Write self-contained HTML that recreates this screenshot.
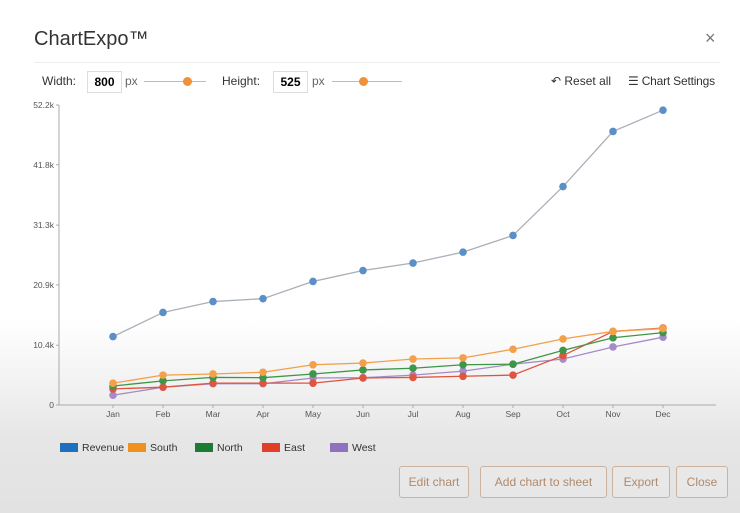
<!DOCTYPE html>
<html><head><meta charset="utf-8"><style>
body{margin:0;width:740px;height:513px;overflow:hidden;font-family:"Liberation Sans",sans-serif;background:linear-gradient(#fff 0,#fff 320px,#e6e6e6 440px,#e2e2e2 513px);position:relative}
.a{position:absolute}
.btn{position:absolute;top:466px;height:30px;border:1px solid #cbb3a0;border-radius:3px;color:#b08a6c;font-size:12px;line-height:30px;text-align:center;background:rgba(255,255,255,.15)}
.inp{position:absolute;top:71px;height:20px;border:1px solid #ddd;background:#fff;font-size:12px;font-weight:bold;line-height:20px;text-align:center}
</style></head><body>
<div class="a" style="left:34px;top:28px;font-size:20px;color:#333">ChartExpo™</div>
<div class="a" style="left:705px;top:28px;font-size:18px;color:#777">×</div>
<div class="a" style="left:34px;top:62px;width:686px;height:1px;background:#eee"></div>
<div class="a" style="left:42px;top:74px;font-size:12px;color:#333">Width:</div>
<div class="inp" style="left:87px;width:33px">800</div>
<div class="a" style="left:125px;top:74px;font-size:12px;color:#666">px</div>
<div class="a" style="left:144px;top:81px;width:62px;height:1px;background:#bbb"></div>
<div class="a" style="left:183px;top:77px;width:9px;height:9px;border-radius:50%;background:#f0903a"></div>
<div class="a" style="left:222px;top:74px;font-size:12px;color:#333">Height:</div>
<div class="inp" style="left:273px;width:33px">525</div>
<div class="a" style="left:312px;top:74px;font-size:12px;color:#666">px</div>
<div class="a" style="left:332px;top:81px;width:70px;height:1px;background:#bbb"></div>
<div class="a" style="left:359px;top:77px;width:9px;height:9px;border-radius:50%;background:#f0903a"></div>
<div class="a" style="left:551px;top:74px;font-size:12px;color:#333">↶ Reset all</div>
<div class="a" style="left:628px;top:74px;font-size:12px;color:#333;letter-spacing:-0.2px">☰ Chart Settings</div>

<svg class="a" style="left:0;top:0" width="740" height="513" id="chart"></svg>

<div class="btn" style="left:399px;width:68px">Edit chart</div>
<div class="btn" style="left:480px;width:125px">Add chart to sheet</div>
<div class="btn" style="left:612px;width:56px">Export</div>
<div class="btn" style="left:676px;width:50px">Close</div>

<script>
const months=["Jan","Feb","Mar","Apr","May","Jun","Jul","Aug","Sep","Oct","Nov","Dec"];
const yTicks=[0,10.4,20.9,31.3,41.8,52.2];
const yTickLabels=["0","10.4k","20.9k","31.3k","41.8k","52.2k"];
const seriesNames=["Revenue","South","North","East","West"];
const colors=["#5b8fc8","#f2a04a","#3f9548","#e0553f","#a58bcb"];
const legendColors=["#1f6fbf","#f0901f","#1d7a32","#e0402a","#8e72c0"];
const revenue=[11.9,16.1,18.0,18.5,21.5,23.4,24.7,26.6,29.5,38.0,47.6,51.3];
const south=[3.8,5.2,5.4,5.7,7.0,7.3,8.0,8.2,9.7,11.5,12.8,13.3];
const north=[3.3,4.2,4.8,4.75,5.4,6.1,6.4,7.0,7.1,9.5,11.7,12.6];
const east=[2.8,3.1,3.8,3.8,3.8,4.7,4.8,5.0,5.2,8.6,12.8,13.4];
const west=[1.7,3.1,3.7,3.7,4.7,4.75,5.2,5.9,7.1,8.0,10.1,11.8];
const series=[revenue,south,north,east,west];
const svg=document.getElementById('chart');
const NS="http://www.w3.org/2000/svg";
const x=i=>113+i*50;
const y=v=>405-v*(300/52.2);
function mk(t,a,p){const e=document.createElementNS(NS,t);for(const k in a)e.setAttribute(k,a[k]);(p||svg).appendChild(e);return e;}
let e=mk('line',{x1:59,y1:105,x2:59,y2:405,stroke:'#aaa'});


e=mk('line',{x1:59,y1:405,x2:716,y2:405,stroke:'#aaa'});


yTicks.forEach((t,i)=>{
  const yy=y(t);
  mk('line',{x1:56,y1:yy,x2:59,y2:yy,stroke:'#aaa'});
  e=mk('text',{x:54,y:yy+3,'text-anchor':'end','font-size':8.5,fill:'#555'});
  e.textContent=yTickLabels[i];
  
  
});
months.forEach((m,i)=>{
  mk('line',{x1:x(i),y1:405,x2:x(i),y2:408,stroke:'#aaa'});
  e=mk('text',{x:x(i),y:417,'text-anchor':'middle','font-size':8.5,fill:'#555'});
  e.textContent=m;
  
  
});
for(let s=series.length-1;s>=0;s--){
  const d=series[s].map((v,i)=>(i?'L':'M')+x(i)+','+y(v)).join('');
  e=mk('path',{d:d,fill:'none',stroke:s==0?'#aab0b8':colors[s],'stroke-width':1.3});
  
  
  series[s].forEach((v,i)=>{
    e=mk('circle',{cx:x(i),cy:y(v),r:3.8,fill:colors[s]});
    
    
  });
}
const legX=[60,128,195,262,330];
seriesNames.forEach((n,i)=>{
  e=mk('rect',{x:legX[i],y:443,width:18,height:9,fill:legendColors[i]});
  
  
  e=mk('text',{x:legX[i]+22,y:451,'font-size':10.5,fill:'#333'});
  e.textContent=n;
  
  
});
</script>
</body></html>
